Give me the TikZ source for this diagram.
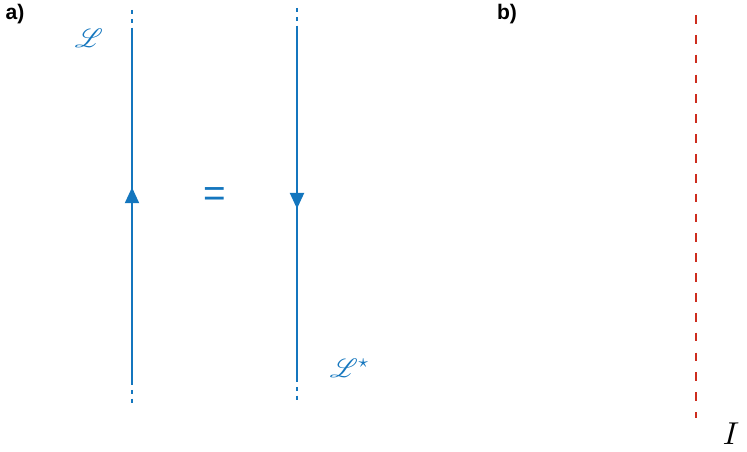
\documentclass[tikz,border=0pt]{standalone}
\usepackage{fontspec}
\usepackage{mathrsfs}
\newfontfamily\panelfont{Liberation Sans}
\usetikzlibrary{arrows.meta,decorations.markings}
\definecolor{lineblue}{RGB}{20,118,190}
\definecolor{cutred}{RGB}{205,45,30}
\tikzset{
  wline/.style={lineblue,line width=1.1pt},
  wdots/.style={lineblue,line width=1.1pt,dash pattern=on 2.5pt off 2.5pt},
  midmark/.style={postaction={decorate},decoration={markings,
      mark=at position #1 with {\arrow{Triangle[length=9pt,width=8pt]}}}},
  cut/.style={cutred,line width=0.9pt,dash pattern=on 5pt off 6.3pt},
  panel/.style={font=\panelfont\bfseries\large}
}
\begin{document}
\begin{tikzpicture}[x=0.02cm,y=-0.02cm]
            \useasboundingbox (0,0) rectangle (747,452);
            % panel a)
            \node[panel] (la) at (15,14) {a)};
            \coordinate (p1) at (132,10);
            \coordinate (p2) at (132,29);
            \coordinate (p3) at (132,381);
            \coordinate (p4) at (132,405);
            \draw[wdots] (p1) -- (p2);
            \draw[wline,midmark=0.55] (p3) -- (p2);
            \draw[wdots] (p3) -- (p4);
            \node[lineblue,scale=1.5] (L) at (89,38) {$\mathscr{L}$};
            \node[lineblue,font=\panelfont,scale=2.2] (eq) at (215,197) {=};
            \coordinate (q1) at (297,8);
            \coordinate (q2) at (297,29);
            \coordinate (q3) at (297,378);
            \coordinate (q4) at (297,403);
            \draw[wdots] (q1) -- (q2);
            \draw[wline,midmark=0.515] (q2) -- (q3);
            \draw[wdots] (q3) -- (q4);
            \node[lineblue,scale=1.5] (Ls) at (350,368) {$\mathscr{L}^{\star}$};
            % panel b)
            \node[panel] (lb) at (507,14) {b)};
            \coordinate (c1) at (696,15);
            \coordinate (c2) at (696,418);
            \draw[cut] (c1) -- (c2);
            \node[scale=1.8,inner sep=0pt] (I) at (731,434) {$I$};
        \end{tikzpicture}
\end{document}
